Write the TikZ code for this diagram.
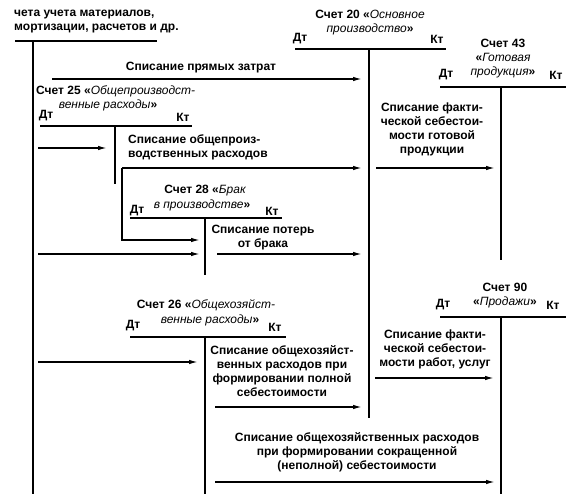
\documentclass[tikz,border=0pt]{standalone}
\usepackage{fontspec}
\setmainfont{Liberation Sans}
\usetikzlibrary{arrows.meta}
\newcommand{\accn}[1]{{\mdseries\itshape #1}}
\begin{document}
\begin{tikzpicture}[x=1pt,y=-1pt,
  txt/.style={font=\bfseries\fontsize{12}{14}\selectfont, inner sep=0pt, align=center},
  tline/.style={line width=1.5pt},
  vline/.style={line width=2pt},
  arr/.style={line width=1.4pt, -{Latex[length=9pt,width=4.5pt]}},
  plain/.style={line width=1.4pt}]
\useasboundingbox (0,0) rectangle (566,494);

% ---- source accounts
\node[txt, anchor=west, align=left] (src) at (14,22) {чета учета материалов,\\мортизации, расчетов и др.};
\coordinate (srcL) at (15,41); \coordinate (srcR) at (157,41);
\coordinate (srcT) at (33,41); \coordinate (srcB) at (33,494);
\draw[tline] (srcL) -- (srcR);
\draw[vline] (srcT) -- (srcB);

% ---- account 20
\node[txt] (a20) at (370,23) {Счет 20 «\accn{Основное}\\\accn{производство}»};
\node[txt] (a20d) at (300,39) {Дт};
\node[txt] (a20k) at (437,39) {Кт};
\coordinate (a20L) at (295,49); \coordinate (a20R) at (446,49);
\coordinate (a20T) at (369,49); \coordinate (a20B) at (369,418);
\draw[tline] (a20L) -- (a20R);
\draw[vline] (a20T) -- (a20B);

% ---- account 43
\node[txt] (a43) at (503,59) {Счет 43\\«\accn{Готовая}\\\accn{продукция}»};
\node[txt] (a43d) at (446,75) {Дт};
\node[txt] (a43k) at (556,75) {Кт};
\coordinate (a43L) at (440,87); \coordinate (a43R) at (566,87);
\coordinate (a43T) at (501,87); \coordinate (a43B) at (501,260);
\draw[tline] (a43L) -- (a43R);
\draw[vline] (a43T) -- (a43B);

% ---- account 25
\node[txt, anchor=west] (a25a) at (36,91) {Счет 25 «\accn{Общепроизводст-}};
\node[txt] (a25b) at (108,105) {\accn{венные расходы}»};
\node[txt] (a25d) at (46,116) {Дт};
\node[txt] (a25k) at (183,117) {Кт};
\coordinate (a25L) at (40,126); \coordinate (a25R) at (192,126);
\coordinate (a25T) at (115,126); \coordinate (a25B) at (115,184);
\draw[tline] (a25L) -- (a25R);
\draw[vline] (a25T) -- (a25B);

% ---- account 28
\node[txt] (a28a) at (205,191) {Счет 28 «\accn{Брак}};
\node[txt] (a28b) at (202,205) {\accn{в производстве}»};
\node[txt] (a28d) at (137,211) {Дт};
\node[txt] (a28k) at (272,211) {Кт};
\coordinate (a28L) at (130,218); \coordinate (a28R) at (282,218);
\coordinate (a28T) at (205,218); \coordinate (a28B) at (205,275);
\draw[tline] (a28L) -- (a28R);
\draw[vline] (a28T) -- (a28B);

% ---- account 26
\node[txt] (a26a) at (206,305) {Счет 26 «\accn{Общехозяйст-}};
\node[txt] (a26b) at (210,320) {\accn{венные расходы}»};
\node[txt] (a26d) at (133,326) {Дт};
\node[txt] (a26k) at (275,327) {Кт};
\coordinate (a26L) at (130,337); \coordinate (a26R) at (286,337);
\coordinate (a26T) at (205,337); \coordinate (a26B) at (205,494);
\draw[tline] (a26L) -- (a26R);
\draw[vline] (a26T) -- (a26B);

% ---- account 90
\node[txt] (a90) at (505,296) {Счет 90\\«\accn{Продажи}»};
\node[txt] (a90d) at (443,305) {Дт};
\node[txt] (a90k) at (553,305) {Кт};
\coordinate (a90L) at (440,317); \coordinate (a90R) at (566,317);
\coordinate (a90T) at (501,317); \coordinate (a90B) at (501,494);
\draw[tline] (a90L) -- (a90R);
\draw[vline] (a90T) -- (a90B);

% ---- flows
% direct costs
\node[txt] (l1) at (201,68) {Списание прямых затрат};
\coordinate (f1s) at (52,79); \coordinate (f1e) at (362,79);
\draw[arr] (f1s) -- (f1e);

% into 25
\coordinate (f2s) at (38,148); \coordinate (f2e) at (107,148);
\draw[arr] (f2s) -- (f2e);

% 25 -> 20 and 25 -> 28
\node[txt, anchor=west, align=left] (l3) at (128,147) {Списание общепроиз-\\водственных расходов};
\coordinate (f3s) at (122,168); \coordinate (f3e) at (362,168);
\coordinate (f4c) at (122,240); \coordinate (f4e) at (200,240);
\draw[arr] (f3s) -- (f3e);
\draw[arr] (f3s) -- (f4c) -- (f4e);

% into 28
\coordinate (f5s) at (38,254); \coordinate (f5e) at (200,254);
\draw[arr] (f5s) -- (f5e);

% 28 -> 20
\node[txt] (l6) at (263,238) {Списание потерь\\от брака};
\coordinate (f6s) at (217,254); \coordinate (f6e) at (362,254);
\draw[arr] (f6s) -- (f6e);

% 20 -> 43
\node[txt] (l7) at (432,129) {Списание факти-\\ческой себестои-\\мости готовой\\продукции};
\coordinate (f7s) at (376,168); \coordinate (f7e) at (495,168);
\draw[arr] (f7s) -- (f7e);

% into 26
\coordinate (f8s) at (38,362); \coordinate (f8e) at (198,362);
\draw[arr] (f8s) -- (f8e);

% 26 -> 20
\node[txt] (l9) at (282,371) {Списание общехозяйст-\\венных расходов при\\формировании полной\\себестоимости};
\coordinate (f9s) at (215,407); \coordinate (f9e) at (362,407);
\draw[arr] (f9s) -- (f9e);

% 20 -> 90
\node[txt] (l10) at (435,349) {Списание факти-\\ческой себестои-\\мости работ, услуг};
\coordinate (f10s) at (375,378); \coordinate (f10e) at (494,378);
\draw[arr] (f10s) -- (f10e);

% 26 -> 90
\node[txt] (l11) at (357,452) {Списание общехозяйственных расходов\\при формировании сокращенной\\(неполной) себестоимости};
\coordinate (f11s) at (215,482); \coordinate (f11e) at (495,482);
\draw[arr] (f11s) -- (f11e);
\end{tikzpicture}
\end{document}
